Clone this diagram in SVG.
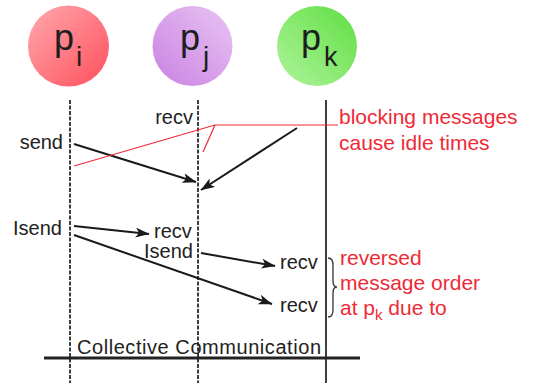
<svg xmlns="http://www.w3.org/2000/svg" width="533" height="383" viewBox="0 0 533 383">
  <defs>
    <linearGradient id="gradI" x1="0" y1="0" x2="1" y2="1">
      <stop offset="0" stop-color="#ffa9ae"/>
      <stop offset="1" stop-color="#ff4f5c"/>
    </linearGradient>
    <linearGradient id="gradJ" x1="1" y1="0" x2="0" y2="1">
      <stop offset="0" stop-color="#e8c4f2"/>
      <stop offset="1" stop-color="#c982e2"/>
    </linearGradient>
    <linearGradient id="gradK" x1="1" y1="0" x2="0" y2="1">
      <stop offset="0" stop-color="#5fde42"/>
      <stop offset="1" stop-color="#b0f49c"/>
    </linearGradient>
    <marker id="arrow" viewBox="0 0 14 10" refX="13.5" refY="5" markerWidth="14" markerHeight="10" markerUnits="userSpaceOnUse" orient="auto">
      <path d="M0,0 L14,5 L0,10 L3.5,5 Z" fill="#1a1a1a"/>
    </marker>
  </defs>
  <style>
    .lbl { font-family: "Liberation Sans", Arial, sans-serif; font-size: 20px; fill: #222; }
    .red { font-family: "Liberation Sans", Arial, sans-serif; font-size: 21px; fill: #ee2a36; }
    .proc { font-family: "Liberation Sans", Arial, sans-serif; fill: #1e1e1e; }
    .tl { stroke: #2a2a2a; stroke-width: 1.8; fill: none; }
    .dash { stroke-dasharray: 4 1.5; }
    .msg { stroke: #1a1a1a; stroke-width: 2; fill: none; marker-end: url(#arrow); }
    .note { stroke: #ee2a36; stroke-width: 1.2; fill: none; }
  </style>

  <!-- process heads -->
  <g id="proc-i">
    <circle cx="68.5" cy="46" r="40.5" fill="url(#gradI)"/>
    <text class="proc" x="54" y="50" font-size="36">p</text>
    <text class="proc" x="76" y="66" font-size="28">i</text>
  </g>
  <g id="proc-j">
    <circle cx="192.5" cy="46" r="40" fill="url(#gradJ)"/>
    <text class="proc" x="180" y="50" font-size="36">p</text>
    <text class="proc" x="203" y="66" font-size="28">j</text>
  </g>
  <g id="proc-k">
    <circle cx="317" cy="46" r="40" fill="url(#gradK)"/>
    <text class="proc" x="301" y="50" font-size="36">p</text>
    <text class="proc" x="324" y="66" font-size="27">k</text>
  </g>

  <!-- time lines -->
  <g id="timelines">
    <line class="tl dash" x1="70" y1="100" x2="70" y2="383"/>
    <line class="tl dash" x1="198" y1="100" x2="198" y2="383"/>
    <line class="tl" x1="326" y1="100" x2="326" y2="383"/>
    <line x1="44" y1="358" x2="360" y2="358" stroke="#222" stroke-width="3"/>
  </g>

  <!-- messages -->
  <g id="connectors">
    <line class="msg" x1="74" y1="144" x2="196" y2="182"/>
    <line class="msg" x1="297" y1="128" x2="201" y2="190"/>
    <line class="msg" x1="74" y1="226" x2="149" y2="234"/>
    <line class="msg" x1="74" y1="235" x2="272" y2="304"/>
    <line class="msg" x1="201" y1="253" x2="275" y2="266"/>
    <polyline class="note" points="74,166 215,125 338,125"/>
    <line class="note" x1="215" y1="125" x2="203" y2="152"/>
    <path d="M328,258 Q333,258 333,265 L333,281 Q333,287 337,287 Q333,287 333,293 L333,310 Q333,317 328,317" fill="none" stroke="#333" stroke-width="1.3"/>
  </g>

  <!-- operation labels -->
  <g id="labels">
    <text class="lbl" x="193" y="124" text-anchor="end">recv</text>
    <text class="lbl" x="63" y="149" text-anchor="end">send</text>
    <text class="lbl" x="62" y="235" text-anchor="end">Isend</text>
    <text class="lbl" x="154" y="238">recv</text>
    <text class="lbl" x="193" y="258" text-anchor="end">Isend</text>
    <text class="lbl" x="280" y="269">recv</text>
    <text class="lbl" x="280" y="312">recv</text>
    <text class="lbl" x="77" y="354" font-size="21" textLength="244" lengthAdjust="spacing">Collective Communication</text>
  </g>

  <!-- annotations -->
  <g id="notes">
    <text class="red" x="339" y="124">blocking messages</text>
    <text class="red" x="339" y="150">cause idle times</text>
    <text class="red" x="340" y="265">reversed</text>
    <text class="red" x="340" y="290">message order</text>
    <text class="red" x="340" y="315">at p<tspan font-size="15" dy="5">k</tspan><tspan dy="-5"> due to</tspan></text>
  </g>
</svg>
